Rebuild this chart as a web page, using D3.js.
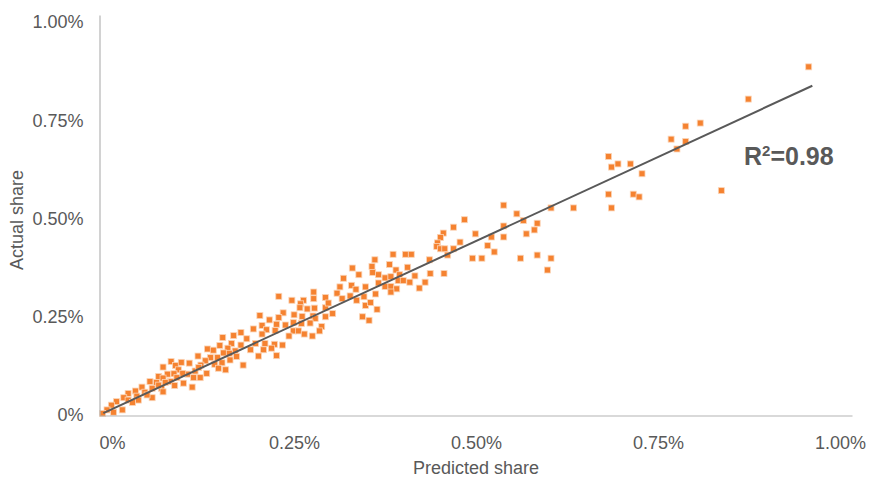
<!DOCTYPE html>
<html>
<head>
<meta charset="utf-8">
<script src="https://cdn.jsdelivr.net/npm/d3@7"></script>
<style>
  body { margin: 0; background: #fff; }
  text { font-family: "Liberation Sans", Arial, sans-serif; }
</style>
</head>
<body>
<svg id="chart" width="875" height="481"></svg>
<script>
// values in percent
const predicted = [
  0.957, 0.874, 0.788, 0.808, 0.768, 0.788, 0.776, 0.682, 0.686, 0.695, 0.712, 0.728, 0.682, 0.716, 0.724,
  0.686, 0.634, 0.603, 0.837, 0.565, 0.584, 0.580, 0.569, 0.584, 0.603, 0.561, 0.598,
  0.538, 0.556, 0.538, 0.499, 0.521, 0.538, 0.516, 0.525, 0.495, 0.508,
  0.484, 0.469, 0.455, 0.451, 0.447, 0.446, 0.451, 0.457, 0.469, 0.478, 0.461, 0.436, 0.437, 0.456,
  0.361, 0.386, 0.403, 0.411, 0.381, 0.406, 0.390, 0.357, 0.358, 0.366, 0.375, 0.383, 0.395, 0.416,
  0.393, 0.400, 0.409, 0.430, 0.366, 0.375, 0.383, 0.391, 0.422, 0.383, 0.362,
  0.330, 0.339, 0.318, 0.313, 0.329, 0.348, 0.335, 0.309, 0.327, 0.316, 0.336, 0.346, 0.348, 0.355,
  0.344, 0.353, 0.229, 0.247, 0.263, 0.277, 0.277, 0.293, 0.259, 0.258, 0.268, 0.278, 0.293, 0.297,
  0.235, 0.250, 0.261, 0.276, 0.279, 0.293, 0.303, 0.229, 0.226, 0.238, 0.249, 0.260, 0.272, 0.288,
  0.249, 0.256, 0.264, 0.275, 0.285, 0.243, 0.364,
  0.203, 0.216, 0.206, 0.194, 0.177, 0.212, 0.224, 0.167, 0.206, 0.185, 0.152, 0.164, 0.148, 0.177,
  0.197, 0.210, 0.223, 0.131, 0.139, 0.159, 0.169, 0.190, 0.208, 0.219, 0.118, 0.135, 0.145, 0.153,
  0.161, 0.171, 0.201, 0.226, 0.106, 0.128, 0.122, 0.141, 0.151, 0.162, 0.180, 0.114, 0.130, 0.146,
  0.156, 0.119, 0.104, 0.112, 0.121, 0.234, 0.110,
  0.081, 0.070, 0.087, 0.095, 0.091, 0.076, 0.085, 0.097, 0.064, 0.070, 0.089, 0.052, 0.061, 0.080,
  0.098, 0.041, 0.055, 0.068, 0.086, 0.032, 0.045, 0.070, 0.022, 0.034, 0.055, 0.016, 0.022, 0.006,
  0.014, -0.001, -0.007, -0.013, 0.002, 0.036, 0.028, 0.048, 0.064, 0.073
];
const actual = [
  0.886, 0.804, 0.735, 0.743, 0.702, 0.696, 0.677, 0.658, 0.631, 0.639, 0.639, 0.614, 0.562, 0.562, 0.555,
  0.527, 0.527, 0.527, 0.571, 0.495, 0.488, 0.471, 0.461, 0.407, 0.399, 0.399, 0.369,
  0.534, 0.512, 0.481, 0.461, 0.453, 0.453, 0.431, 0.415, 0.399, 0.399,
  0.497, 0.478, 0.463, 0.452, 0.438, 0.429, 0.423, 0.423, 0.423, 0.440, 0.407, 0.395, 0.360, 0.360,
  0.395, 0.409, 0.409, 0.409, 0.383, 0.376, 0.369, 0.378, 0.363, 0.357, 0.349, 0.352, 0.357, 0.354,
  0.342, 0.342, 0.338, 0.338, 0.336, 0.327, 0.327, 0.321, 0.323, 0.313, 0.308,
  0.374, 0.357, 0.348, 0.326, 0.330, 0.326, 0.320, 0.310, 0.303, 0.296, 0.292, 0.301, 0.279, 0.286,
  0.250, 0.241, 0.302, 0.292, 0.292, 0.313, 0.296, 0.299, 0.283, 0.273, 0.270, 0.272, 0.273, 0.285,
  0.260, 0.255, 0.251, 0.252, 0.246, 0.250, 0.258, 0.248, 0.231, 0.229, 0.235, 0.233, 0.234, 0.225,
  0.214, 0.214, 0.206, 0.201, 0.214, 0.201, 0.269,
  0.253, 0.242, 0.228, 0.219, 0.210, 0.217, 0.215, 0.202, 0.206, 0.194, 0.197, 0.182, 0.177, 0.178,
  0.182, 0.182, 0.180, 0.168, 0.165, 0.170, 0.163, 0.166, 0.166, 0.170, 0.150, 0.146, 0.146, 0.158,
  0.157, 0.149, 0.150, 0.151, 0.132, 0.138, 0.127, 0.129, 0.133, 0.140, 0.127, 0.112, 0.106, 0.119,
  0.115, 0.121, 0.104, 0.095, 0.095, 0.178, 0.071,
  0.136, 0.122, 0.126, 0.134, 0.115, 0.104, 0.105, 0.106, 0.098, 0.094, 0.095, 0.085, 0.083, 0.085,
  0.081, 0.071, 0.068, 0.068, 0.075, 0.061, 0.058, 0.059, 0.055, 0.048, 0.044, 0.044, 0.038, 0.034,
  0.013, 0.025, 0.013, 0.004, 0.007, 0.038, 0.032, 0.051, 0.076, 0.083
];

// linear trendline (start / end)
const trendX = [-0.012, 0.962];
const trendY = [0.005, 0.838];
const rSquared = "0.98";

const tickValues = [0, 0.25, 0.5, 0.75, 1];
const tickLabels = ["0%", "0.25%", "0.50%", "0.75%", "1.00%"];

const points = predicted.map((p, i) => ({ x: p, y: actual[i] }));

const svg = d3.select("#chart");
const grey = "#595959";

const x = d3.scaleLinear().domain([-0.018, 1.0165]).range([99, 852]);
const y = d3.scaleLinear().domain([0, 1.018]).range([415, 15]);

// markers
svg.append("g")
  .selectAll("rect")
  .data(points)
  .enter()
  .append("rect")
    .attr("x", d => x(d.x) - 3)
    .attr("y", d => y(d.y) - 3)
    .attr("width", 6)
    .attr("height", 6)
    .style("fill", "#f58230")
    .style("stroke", "#fbd5b8")
    .style("stroke-width", 0.8);

// trendline
svg.append("line")
  .attr("x1", x(trendX[0]))
  .attr("y1", y(trendY[0]))
  .attr("x2", x(trendX[1]))
  .attr("y2", y(trendY[1]))
  .style("stroke", grey)
  .style("stroke-width", 2);

// axes
const xAxis = svg.append("g")
  .attr("transform", `translate(0,${y(0) + 0.5})`)
  .call(d3.axisBottom(x).tickValues(tickValues).tickSize(0).tickPadding(21)
    .tickFormat((d, i) => tickLabels[i]));

const yAxis = svg.append("g")
  .attr("transform", `translate(${x.range()[0] + 0.5},0)`)
  .call(d3.axisLeft(y).tickValues(tickValues).tickSize(0).tickPadding(16)
    .tickFormat((d, i) => tickLabels[i]));

[xAxis, yAxis].forEach(a => {
  a.select(".domain").style("stroke", "#b4b4b4").style("stroke-width", 1.2);
  a.selectAll("text")
    .style("font-family", "'Liberation Sans', Arial, sans-serif")
    .style("font-size", "18px")
    .style("fill", grey);
});

// axis titles
svg.append("text")
  .attr("x", 476)
  .attr("y", 474)
  .attr("text-anchor", "middle")
  .style("font-size", "18px")
  .style("fill", grey)
  .text("Predicted share");

svg.append("text")
  .attr("transform", "translate(23,220) rotate(-90)")
  .attr("text-anchor", "middle")
  .style("font-size", "18px")
  .style("fill", grey)
  .text("Actual share");

// R² label
const r2 = svg.append("text")
  .attr("x", 744)
  .attr("y", 165)
  .style("font-size", "25px")
  .style("font-weight", "bold")
  .style("fill", grey);
r2.append("tspan").text("R");
r2.append("tspan").attr("dy", -9).style("font-size", "15px").text("2");
r2.append("tspan").attr("dy", 9).text("=" + rSquared);
</script>
</body>
</html>
